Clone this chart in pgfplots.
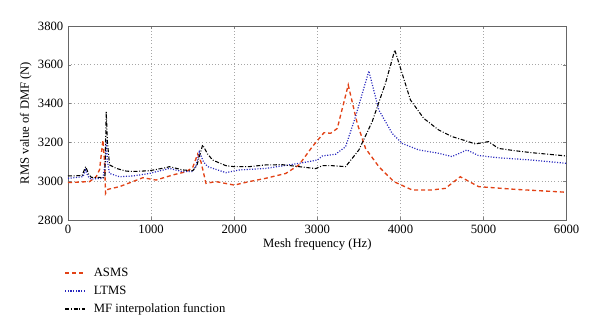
\documentclass[border=0pt]{standalone}
\usepackage{fontspec}
\setmainfont{Liberation Serif}
\usepackage{pgfplots}
\pgfplotsset{compat=1.18}
\definecolor{asms}{RGB}{226,66,22}
\definecolor{ltms}{RGB}{40,40,190}
\begin{document}
\begin{tikzpicture}
\useasboundingbox (-51pt,-84.75pt) rectangle (399pt,165pt);
\begin{axis}[
  at={(0,0)}, anchor=south west,
  scale only axis, width=374pt, height=145.5pt,
  xmin=0, xmax=6000, ymin=2800, ymax=3800,
  xtick={0,1000,...,6000}, ytick={2800,3000,...,3800},
  /pgf/number format/assume math mode=true,
  /pgf/number format/1000 sep={},
  scaled ticks=false,
  tick label style={font=\fontsize{9.5}{10}\selectfont},
  label style={font=\fontsize{9.5}{10}\selectfont},
  xlabel={Mesh frequency (Hz)}, ylabel={RMS value of DMF (N)},
  xlabel style={yshift=3pt}, ylabel style={yshift=-2pt},
  axis line style={gray!80!black, line width=0.6pt},
  tick style={gray, line width=0.4pt},
  major tick length=2.5pt,
  grid=major, grid style={gray!70, dotted, line width=0.5pt},
  legend style={at={(-0.008,-0.232)}, anchor=north west, draw=none, fill=none,
    font=\fontsize{9.5}{10}\selectfont, row sep=1.5pt, inner sep=0pt},
  legend cell align=left,
  legend image code/.code={\draw[#1, line width=1.3pt] (0cm,0cm) -- (15pt,0cm); \path (19pt,0pt);},
]
\addplot[asms, line width=1pt, dash pattern=on 3pt off 2.2pt] coordinates {
(0,2993) (260,2998) (340,3023) (380,3060) (420,3212) (440,3100) (452,2937) (480,2958)
(620,2972) (780,2998) (900,3018) (1060,3006) (1260,3032) (1420,3049) (1500,3070)
(1560,3140) (1600,3100) (1660,2989) (1780,2998) (2000,2980) (2180,2998) (2380,3015)
(2620,3040) (2780,3084) (2940,3178) (3080,3250) (3160,3247) (3240,3272) (3372,3496)
(3480,3298) (3580,3169) (3740,3075) (3920,2998) (4140,2955) (4380,2955) (4540,2963)
(4720,3023) (4940,2972) (5380,2958) (6000,2943)};
\addlegendentry{ASMS}
\addplot[ltms, line width=0.9pt, dash pattern=on 0.8pt off 1.2pt] coordinates {
(0,3015) (180,3023) (212,3058) (240,3025) (275,3011) (420,3015) (450,3100) (460,3210)
(475,3100) (500,3040) (620,3023) (780,3027) (980,3040) (1220,3066) (1380,3049)
(1500,3050) (1540,3080) (1580,3152) (1630,3100) (1680,3075) (1900,3044) (2060,3058)
(2380,3066) (2780,3092) (3000,3109) (3060,3130) (3220,3139) (3340,3178) (3460,3333)
(3620,3568) (3740,3367) (3900,3247) (4020,3195) (4220,3161) (4460,3144) (4620,3127)
(4800,3161) (4940,3132) (5180,3121) (5580,3109) (6000,3092)};
\addlegendentry{LTMS}
\addplot[black, line width=0.8pt, dash pattern=on 3pt off 1.3pt on 0.7pt off 1.3pt] coordinates {
(0,3027) (100,3028) (170,3030) (212,3075) (250,3035) (280,3020) (380,3020) (420,3015)
(445,3030) (460,3358) (475,3200) (500,3084) (580,3066) (700,3052) (780,3050) (980,3054)
(1180,3070) (1220,3075) (1380,3058) (1500,3054) (1550,3080) (1620,3187) (1680,3140)
(1740,3109) (1900,3080) (2000,3075) (2180,3075) (2380,3084) (2580,3085) (2780,3075)
(2980,3065) (3060,3080) (3180,3080) (3340,3075) (3500,3161) (3660,3307) (3820,3505)
(3932,3676) (4020,3556) (4120,3419) (4280,3324) (4460,3264) (4620,3230) (4780,3209)
(4900,3192) (5060,3204) (5180,3169) (5380,3157) (5580,3147) (6000,3130)};
\addlegendentry{MF interpolation function}
\end{axis}
\end{tikzpicture}
\end{document}
